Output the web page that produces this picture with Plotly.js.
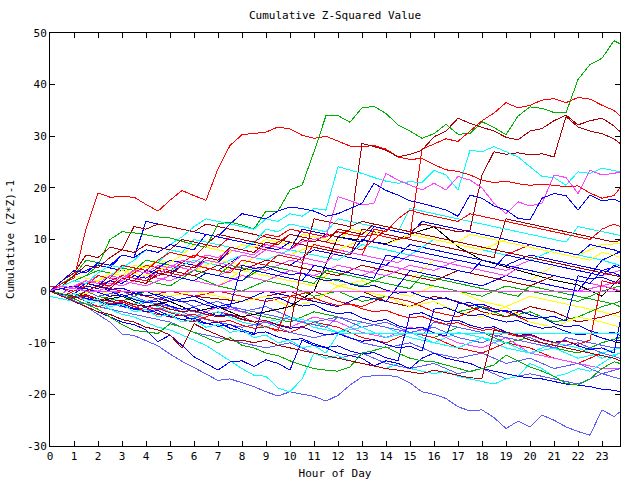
<!DOCTYPE html>
<html><head><meta charset="utf-8">
<script src="https://cdn.plot.ly/plotly-3.0.1.min.js"></script>
<style>html,body{margin:0;padding:0;background:#fff}#chart{width:640px;height:480px}#chart path.js-line{shape-rendering:crispEdges}</style>
</head><body><div id="chart"></div>
<script>
// ---- x grids (hour of day) ----
const hours = [0,1,2,3,4,5,6,7,8,9,10,11,12,13,14,15,16,17,18,19,20,21,22,23,23.75];
const halfHours = [0,0.5,1,1.5,2,2.5,3,3.5,4,4.5,5,5.5,6,6.5,7,7.5,8,8.5,9,9.5,10,10.5,11,11.5,12,12.5,13,13.5,14,14.5,15,15.5,16,16.5,17,17.5,18,18.5,19,19.5,20,20.5,21,21.5,22,22.5,23,23.5,23.75];
const xTickLabels = ['0','1','2','3','4','5','6','7','8','9','10','11','12','13','14','15','16','17','18','19','20','21','22','23'];
const yTickLabels = ['-30','-20','-10','0','10','20','30','40','50'];

// ---- featured series (half-hour grid) ----
const redA = [0,1.5,2.5,12,19,18.2,18.3,18.2,16.8,15.5,17.6,19.5,18.5,17.6,23.7,28.2,30.3,30.5,30.8,31.8,31.4,30.2,29.6,30,29,28.1,28,28.2,27.5,26,25.5,25.7,24.5,23.5,23.2,22.5,21.5,21,21.3,20.8,20.5,20.7,20.5,20.2,20.4,19,18,18.5,20];
const greenTop = [0,1,2,3,5,10,11.5,11.3,10.9,10.5,10.3,9.6,9,8.5,13,13.4,12.8,12,15.5,15.5,19.6,20.5,27,34,34,32.7,35.5,35.8,34.4,32.2,31,29.6,30.5,32.3,30.4,30.5,32.8,31.7,30.3,33.9,35.7,35.4,34.6,34.5,41,43.9,45.1,48.5,47.9];
const redJump = [0,-1,0,1,3,2.5,5,4.5,4,6,7.5,7,6.5,9,8.5,10.5,10,9.5,11,10.5,12,11.5,11,10.5,11.5,11,10.5,11,10.5,10,10.5,27.5,28.5,29.5,29,31,33,34.5,36.5,35.5,36,37,37.3,36.5,37.5,37.2,36,35,34];
const darkRed1 = [0,1,3,5,4.5,6.5,8,7.5,9,8.5,8,10,9.5,9,11,10.5,10,9.5,9,8.5,8,10,9.5,11,10.5,12,28.6,28,27.3,26,26.5,27.3,29.9,31,33.5,32.5,31.8,31,29.8,29.3,31,31.5,33,34.1,32.2,33,33.5,32,30.9];
const darkRed2 = [0,-1,-1.5,0,1,0.5,2.5,2,1.5,3.5,3,5,4.5,6.5,6,8.5,8,7.5,9.5,9,11,10.5,10,9.5,12,11.5,11,13,12.5,12,11.5,13,12.5,12,11.5,11.8,22.5,27,26.5,26.8,26.4,26.6,26,33.8,31.8,31,30.5,29.5,28.6];
const darkRed3 = [0,-0.5,-1,-0.7,-1.5,-2,-1.8,-2.6,-3,-2.7,-3.5,-4,-3.7,-4.5,-5,-4.7,-5.5,-6,-5.7,-6.5,-7,5,14,13.5,13,12.5,13.5,13,12.5,12,11.5,11,10.5,10,9.5,9,8.5,8,7.5,7,6.5,6,5.5,5,4.5,4,3.5,3,2.8];
const cyanTop = [0,1,2,1.5,3.5,5,4.5,6,8,7.5,9,10.5,12.5,14,13.5,13,12.5,12,14,13.5,15,14.5,16,15.7,24.1,23.5,22.8,22,21.3,20.9,21.2,21,23.4,22.5,19.6,27.3,27,28,27,26,24.1,22.2,22,20.5,23.1,22.8,23.8,23.3,23.1];
const magentaTop = [0,-0.5,1,2,1.5,3,2.5,4,3.5,5,4.5,6,5.5,7,6.5,8,7.5,7,9,8.5,8,9.5,10,10.5,18.3,17.5,16.7,17,22.8,21.5,20.5,19.6,20.9,19.6,22.2,21.5,20,17,15,17.3,16.5,17,22.5,22,18.9,23.4,22.5,22.8,23.1];
const blueTop = [0,2,4,3.5,5.5,5,7,6.5,8,7.5,9,8.5,8,11,10.5,13,15,14.5,14,15.5,16.3,16,15.5,14.5,15,16,17,20.9,19.5,18.6,17.5,17,16.3,15.7,14.5,18.6,18,16.5,15.7,14.1,13.8,18,18.9,18.5,15.7,18.6,17.5,17.8,17.3];
const lavenderLow = [0,-0.8,-1.8,-3,-4.5,-6,-8.3,-8.6,-9.6,-10.6,-12.2,-13.6,-14.8,-16,-17.3,-17,-17.8,-18.5,-19.5,-20.3,-19.5,-20,-20.4,-21.3,-20.2,-18.2,-16.6,-16.4,-16.3,-16.6,-17.8,-19.5,-20,-20.8,-22.4,-23.2,-23,-24.5,-26.6,-25.2,-26.3,-24,-25,-26.3,-27.2,-27.9,-23,-24.3,-23.4];
const magentaFlat = [0,1,0.5,0,0,0,0,0,0,0,0,0,0,0,0,0,0,0,0,0,0,0,0,0,0,0,0,0,0,0,0,0,0,0,0,0,0,0,0,0,0,0,0,0,0,0,0,0,0];
const cyanFlat = [0,-1,-0.5,-2,-1.5,-3,-2.5,-4,-3.5,-5,-4.5,-6,-5.5,-7,-6.5,-8,-7.5,-9,-8.5,-10,-9.5,-11,-10.5,-12,-8.3,-8.3,-8.3,-8.3,-8.3,-8.3,-8.3,-8.3,-8.3,-8.3,-8.3,-8.3,-8.3,-8.3,-8.3,-8.3,-8.3,-8.3,-8.3,-8.3,-8.3,-8.3,-8.3,-8.3,-8.3];
const cyanLow = [0,-0.5,-1.5,-2.5,-2,-3.5,-4.5,-5,-6,-7,-7.5,-8.5,-9.5,-10.5,-12,-13.5,-15,-16.3,-16.5,-18.8,-19.5,-17,-12,-13,-12.5,-13.5,-14,-14.5,-15,-14,-15,-15.5,-16,-15.5,-16.5,-17,-17.5,-18,-17,-16.5,-14,-15,-16.6,-16,-15,-15.5,-14,-12.5,-12];
const navyLow = [0,-1,-2,-3,-4,-5,-6,-6.5,-7.5,-9.8,-8.5,-10.5,-12.7,-14,-15.3,-13.7,-13.5,-14.6,-13.3,-14,-15.3,-9.5,-10.5,-11,-12,-12.5,-13,-14.5,-13.5,-14,-15,-13,-12,-13,-13.5,-14,-15,-15.5,-16,-16.5,-16.8,-17,-17.5,-18,-18.2,-18.5,-19,-19.2,-19.5];
const greenLow = [0,-0.5,-1.5,-2.5,-3.5,-5,-6.5,-7.6,-7.9,-8.2,-6.3,-7,-8,-9,-10,-9,-10.5,-11,-12,-12.5,-13.5,-14.3,-15,-15.3,-15.5,-14.7,-12,-11.5,-10.8,-12,-13,-13.5,-13.7,-14.3,-15,-15.6,-15,-14.3,-12.4,-13.5,-14.7,-15.5,-16.5,-17.9,-18.2,-17,-15,-13.7,-14];
const darkRedLow = [0,-1,-2,-3,-4,-4.5,-5.5,-6,-7,-7.5,-8.5,-11,-6.3,-7.5,-8.5,-9.5,-9.5,-10,-9.5,-10.5,-11,-11.5,-12,-12.5,-13,-13.5,-14,-14.5,-15,-15.3,-15.6,-16,-15.3,-15.8,-16.3,-16.8,-16.9,-7.6,-8,-8.5,-9.5,-10,-10.5,-11,-11.5,-12,-12.5,-13,-13.5];
const upBlue1 = [0,1,2,3,5,4.5,7,6.5,13.5,13,12.5,12,11.5,11,10.5,10,9.5,9,8.5,8,9.5,9,8.5,8,7.5,7,10,9.5,9,8.5,8,7.5,7,6.5,6,5.5,5,4.5,7,6.5,6,5.5,5,4.5,4,3.5,3,5,4.5];
const upDarkRed = [0,2,3.5,7,6.5,8.5,8,12.5,12,13,12.5,12,11.5,13,12.5,12,11.5,11,10.5,10,9.5,9,8.5,8,7.5,7,12,11.5,11,10.5,10,9.5,9,8.5,8,7.5,7,6.5,14,13.5,13,12.5,12,11.5,11,10.5,10,9.5,9.8];
const upYellow = [0,-0.5,1,0.5,2,3.5,3,5,4.5,6,5.5,7,9,8.5,8,7.5,9,8.5,10,9.5,9,11,10.5,10,9.5,12,11.5,11,12.5,12,11.5,11,10.5,10,9.5,11,10.5,10,9.5,9,8.5,8,7.5,7,6.5,6,7.5,7,6.5];
const upCyan = [0,1,0.5,2,1.5,3,4.5,4,6,5.5,8,7.5,10,9.5,9,8.5,8,9.5,12,11.5,13,12.5,12,11.5,14,13.5,13,12.5,12,11.5,16,15.5,15,14.5,14,13.5,13,12.5,12,11.5,11,10.5,10,9.5,12.5,12,11.5,11,10.8];
const upBlue2 = [0,0.5,-0.5,1,0.5,2,1.5,3,2.5,4,3.5,5,4.5,6,5.5,8,7.5,7,9,8.5,8,12,11.5,11,10.5,10,9.5,12.5,12,11.5,11,13.5,13,12.5,12,11.5,11,10.5,10,9.5,9,8.5,8,7.5,7,9,8.5,8,7.6];
const upRed = [0,1,0.5,2,1.5,1,3,2.5,2,4,3.5,3,5,4.5,4,3.5,6,5.5,5,7,6.5,6,9,8.5,8,7.5,7,12,11.5,14,15.7,15,14.5,14,13.5,15,14.5,14,13.5,13,12.5,12,11.5,11,10.5,10,12,13,12.5];
const upGreen = [0,1.5,3,6,5.5,5,4.5,4,6,5.5,5,4.5,4,3.5,3,5,4.5,4,3.5,3,2.5,2,1.5,4,3.5,3,2.5,2,1.5,1,0.5,3,2.5,2,1.5,1,0.5,0,-0.5,-1,1,0.5,0,-0.5,-1,-1.5,-2,-2.5,-3];
const upMagenta = [0,1,2,1.5,3,2.5,2,4,3.5,3,5,4.5,4,6,5.5,5,7,6.5,8,7.5,7,6.5,6,5.5,8,7.5,7,6.5,6,5.5,7,6.5,6,5.5,5,4.5,4,3.5,3,4.5,4,3.5,3,2.5,2,1.5,1,0.5,0];
const upBlue3 = [0,-1,0,1.5,1,3,2.5,2,4,3.5,3,2.5,2,3.5,3,2.5,2,4,3.5,3,2.5,2,5,4.5,4,3.5,3,2.5,7,6.5,6,5.5,5,4.5,4,3.5,6,5.5,5,4.5,4,3.5,3,2.5,2,1.5,4,3.5,3];
const midLavender = [0,-0.5,-1,-1.5,-2,-2.5,-3,-3.5,-2,-2.5,-3,-3.5,-4,-4.5,-5,-3,-3.5,-4,-4.5,-5,-5.5,-6,-6.5,-7,-5,-5.5,-6,-6.5,-7,-7.5,-8,-8.5,-6,-6.5,-7,-7.5,-8,-8.5,-9,-9.5,-10,-10.5,-11,-9,-9.5,-10,-10.5,-11,-11];
const jumpBlue1 = [0,-0.8,-0.5,-1.4,-2,-1.8,-2.9,-3.5,-3.2,-4.3,-5,-4.6,-5.7,-6.3,-6,-7.2,-7.8,-8.5,-1.5,-1.2,-2.3,-2.9,-2.6,-3.8,-4.4,-4.1,-5.2,-5.9,-5.5,-6.7,-7.3,-7,-8.1,-8.7,-2.5,-2.2,-3.3,-4,-3.7,-4.8,-5.4,-5.1,-6.3,-6.9,-6.6,-7.7,-8.3,-8,-8.6];
const jumpBlue2 = [0,-0.6,-1.3,-1,-2,-2.7,-2.4,-3.4,-4,-3.8,-4.8,-5.5,-5.2,-6.2,-6.8,-6.5,-7.5,-8.2,-7.9,-8.9,-9.5,-9.2,-10.2,-10.9,-10.6,-11.6,-12.2,-11.9,-12.9,-13.5,-4.5,-4.2,-5.2,-5.9,-5.6,-6.6,-7.2,-6.9,-7.9,-8.6,-8.3,-9.3,-9.9,-9.6,-10.6,-11.3,-11,-12,-6];
const jumpBlue3 = [0,0.5,1,0.5,-0.3,-1,-0.7,-1.6,-2.2,-1.9,-2.9,-3.5,-3.2,-4.1,-4.8,-4.5,-5.4,-6,-5.7,-6.6,-7.2,-6.9,-7.8,-8.5,-8.2,-9.1,-9.7,-9.4,-10.3,-11,-10.7,-11.6,-3.5,-3.2,-4.1,-4.8,-4.5,-5.4,-6,-5.7,-6.6,-7.2,-6.9,-7.8,-8.5,-8.2,-9.1,-9.7,-9.5];
const jumpBlue4 = [0,1,2,1.5,1,0.3,0.6,-0.3,-0.9,-0.6,-1.5,-2.1,-1.8,-2.7,-3.3,-3,5,4.4,4.7,3.8,3.2,3.5,2.6,2,2.3,1.4,0.8,1.1,0.2,-0.4,-0.1,-1,-1.6,-1.3,-2.2,-2.8,-2.5,-3.4,-4,-3.7,-4.6,-5.2,-4.9,-5.8,3,2.4,2.7,1.8,1.5];
const jumpRed = [0,-0.5,-1.2,-0.9,-1.8,-2.4,-2.1,-3,-3.6,-3.3,-4.2,-4.8,-4.5,-5.4,-6,-5.7,-6.6,-7.2,-6.9,-7.8,-1,-1.6,-1.3,-2.2,-2.8,-2.5,-3.4,-4,-3.7,-4.6,-5.2,-4.9,-5.8,-6.4,-6.1,-7,-7.6,-7.3,-8.2,-8.8,-8.5,-9.4,-10,-9.7,-10.3,-9.5,2,1.4,1.8];

// ---- background series (hourly grid) ----
const m01 = [0,-1,1,0,-1,0,-1,0,-1,-2,-1,0,-2,-3,-1,-2,-4,-5,-3,-4,-6,-7,-5,-6,-7];
const m03 = [0,2,4,3,2,4,3,1,0,2,1,-1,0,-2,-1,-3,-2,-4,-3,-5,-4,-6,-5,-3,-2];
const m04 = [0,2,1,3,5,4,6,5,3,2,4,3,1,2,0,-1,1,0,-2,-3,-1,-2,-3,-4,-5];
const m05 = [-1,-2,-3,-1,-2,-4,-5,-3,-4,-6,-5,-7,-8,-6,-7,-9,-10,-8,-9,-11,-12,-10,-11,-13,-12];
const m06 = [0,1,2,1,3,2,4,3,5,4,6,5,4,3,5,4,3,2,1,3,2,1,0,1,2];
const m07 = [0,3,5,4,3,6,5,4,7,6,5,8,7,6,5,9,8,7,6,5,7,6,5,4,5];
const m08 = [0,-2,-3,-4,-5,-6,-8,-9,-10,-11,-10,-12,-13,-12,-14,-15,-14,-16,-15,-17,-16,-17,-18,-16,-17];
const m09 = [1,0,3,2,5,4,7,6,9,8,11,10,9,8,12,11,10,9,8,7,9,8,7,6,5];
const m10 = [0,-1,-2,0,-1,-2,-1,-1.5,-2,-1,0,-2,1,0,-2,-3,-1,-2,-4,-5,-3,-4,-6,-5,-4];
const m11 = [0,-1,0,2,1,3,2,1,4,3,2,1,5,4,3,2,6,5,4,3,2,5,4,3,4];
const m13 = [0,1,-1,-2,0,-1,-3,-2,-4,-5,-6,-4,-5,-7,-6,-8,-9,-7,-8,-10,-9,-11,-12,-10,-9];
const m14 = [0,2,1,3,2,4,6,5,7,6,8,7,6,9,8,7,10,9,8,7,6,8,7,6,5];
const m16 = [0,-1,-3,-2,-4,-5,-6,-4,-5,-7,-8,-6,-7,-9,-10,-8,-9,-11,-12,-10,-11,-13,-14,-12,-13];
const m17 = [0,-1,-2,-1,-3,-4,-5,-3,-4,-6,-7,-5,-6,-8,-9,-7,-8,-10,-11,-9,-12,-13,-14,-15,-15];
const m18 = [0,1,0,-1,0,-1,0,-1,-2,-1,-3,-2,1,0,-1,-3,-2,-4,-5,-3,-6,-7,-5,-6,-7];
const m20 = [0,1,-1,0,-2,-1,-3,-2,-4,-3,-5,-6,-5,-7,-6,-8,-7,-9,-10,-8,-9,-11,-10,-12,-13];
const m21 = [0,-1,-2,-1,-3,-2,-4,-3,-5,-4,-3,0,10.5,9.8,9.2,11,12.5,8.6,6,4.7,3.4,2.1,1.2,-1,2.5];
const m22 = [0,-1,1,3,2,1,4,3,2,5,4,3,2,1,3,2,1,0,-1,1,0,-1,-2,0,1];
const m24 = [0,2,1,-1,0,-2,-1,-3,-2,0,-1,-2,-3,-1,-2,4,3,2,1,3,2,1,0,6,7.6];
const m25 = [0,-1,-2,-3,-2,-4,-5,-4,-6,-7,-5,-6,-8,-7,-9,-8,-10,-11,-9,-10,-12,-11,-13,-12,-11];
const m26 = [0,3,2,4,3,5,4,6,5,8,7,9,8,10,9,11,10,9,8,10,9,8,7,9,9.2];
const m27 = [0,2,1,3,2,4,3,5,4,6,5,4,3,5,4,3,2,4,3,2,1,3,2,1,0];
const m29 = [0,1,0,2,1,3,2,1,3,2,4,3,5,4,3,5,4,6,5,4,6,5,4,3,4];
const m30 = [0,-1,-2,-3,-4,-3,-5,-6,-7,-6,-8,-9,-8,-10,-11,-10,-12,-13,-12,-14,-13,-15,-14,-16,-15];

// ---- colours ----
const C = {red:'#ff0000', green:'#00b000', blue:'#0000ff', magenta:'#ff40ff', cyan:'#00ffff',
           darkred:'#a80000', yellow:'#ffff00', black:'#000000', lavender:'#5c5cff'};

const bg = [[m01,'red'],[m03,'green'],[m04,'yellow'],[m05,'cyan'],[m06,'magenta'],
  [m07,'blue'],[m08,'lavender'],[m09,'red'],[m10,'darkred'],[m11,'yellow'],
  [m13,'green'],[m14,'cyan'],[m16,'red'],[m17,'magenta'],[m18,'yellow'],
  [m20,'lavender'],[m21,'black'],[m22,'green'],[m24,'blue'],
  [m25,'cyan'],[m26,'yellow'],[m27,'darkred'],[m29,'magenta'],[m30,'lavender']];
const fg = [[upBlue1,'blue'],[upDarkRed,'darkred'],[upYellow,'yellow'],[upCyan,'cyan'],[upBlue2,'blue'],
  [upRed,'red'],[upGreen,'green'],[upMagenta,'magenta'],[upBlue3,'blue'],[midLavender,'lavender'],
  [jumpBlue1,'blue'],[jumpBlue2,'blue'],[jumpBlue3,'blue'],[jumpBlue4,'blue'],[jumpRed,'red'],
  [darkRed3,'darkred'],
  [redA,'red'],[greenTop,'green'],[redJump,'red'],[darkRed1,'darkred'],[darkRed2,'darkred'],
  [cyanTop,'cyan'],[magentaTop,'magenta'],[blueTop,'blue'],[lavenderLow,'lavender'],
  [magentaFlat,'magenta'],[cyanFlat,'cyan'],[cyanLow,'cyan'],[navyLow,'blue'],
  [greenLow,'green'],[darkRedLow,'darkred']];

const traces = [];
bg.forEach(([y,c]) => traces.push({x:hours, y:y, type:'scatter', mode:'lines', line:{color:C[c], width:1}, hoverinfo:'skip'}));
fg.forEach(([y,c]) => traces.push({x:halfHours, y:y, type:'scatter', mode:'lines', line:{color:C[c], width:1}, hoverinfo:'skip'}));

const font = {family:'DejaVu Sans Mono, monospace', size:11, color:'#000'};
const layout = {
  width:640, height:480,
  margin:{l:50, r:20, t:33, b:34, pad:0},
  paper_bgcolor:'#fff', plot_bgcolor:'#fff',
  showlegend:false, hovermode:false, font:font,
  title:{text:'Cumulative Z-Squared Value', font:font, x:0.5, xref:'paper', y:0.969, yref:'container', yanchor:'middle'},
  xaxis:{range:[0,23.75], tickvals:xTickLabels.map(Number), ticktext:xTickLabels,
    ticks:'inside', ticklen:5, tickcolor:'#000', showline:true, linecolor:'#000', linewidth:1, mirror:'ticks',
    showgrid:false, zeroline:false, tickfont:font, automargin:false,
    title:{text:'Hour of Day', font:font, standoff:8}},
  yaxis:{range:[-30,50], tickvals:yTickLabels.map(Number), ticktext:yTickLabels,
    ticks:'inside', ticklen:5, tickcolor:'#000', showline:true, linecolor:'#000', linewidth:1, mirror:'ticks',
    showgrid:false, zeroline:false, tickfont:font, automargin:false,
    title:{text:'Cumulative (Z*Z)-1', font:font, standoff:10}}
};
Plotly.newPlot('chart', traces, layout, {staticPlot:true, displayModeBar:false});
</script></body></html>
